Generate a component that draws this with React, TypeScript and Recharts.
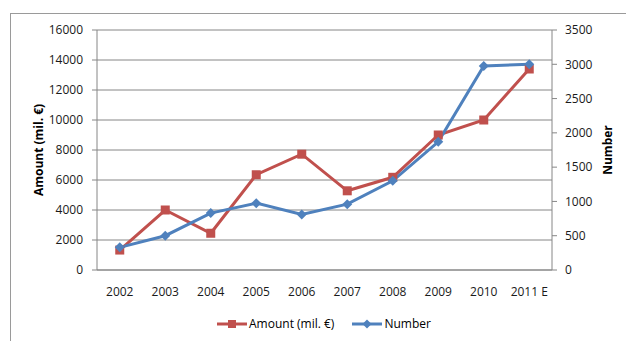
import React from "react";
import {
  LineChart,
  Line,
  XAxis,
  YAxis,
  CartesianGrid,
  Legend,
} from "recharts";

// Yearly figures (2011 is an estimate)
const years = ["2002", "2003", "2004", "2005", "2006", "2007", "2008", "2009", "2010", "2011 E"];
const amountMilEur = [1330, 4000, 2450, 6350, 7720, 5280, 6180, 9000, 10000, 13400];
const numberOfDeals = [330, 500, 830, 975, 810, 960, 1300, 1870, 2975, 3000];

const amountTicks = [0, 2000, 4000, 6000, 8000, 10000, 12000, 14000, 16000];
const numberTicks = [0, 500, 1000, 1500, 2000, 2500, 3000, 3500];

const data = years.map((year, i) => ({
  year,
  amount: amountMilEur[i],
  number: numberOfDeals[i],
}));

const RED = "#C0504D";
const BLUE = "#4F81BD";
const AXIS = "#868686";
const FONT = "'Open Sans', sans-serif";

const SquareDot = (props: any) => {
  const { cx, cy, index } = props;
  if (cx == null || cy == null) return null;
  return <rect key={`sq-${index}`} x={cx - 4.5} y={cy - 4.5} width={9} height={9} fill={RED} />;
};

const DiamondDot = (props: any) => {
  const { cx, cy, index } = props;
  if (cx == null || cy == null) return null;
  const r = 5;
  return (
    <polygon
      key={`dm-${index}`}
      points={`${cx},${cy - r} ${cx + r},${cy} ${cx},${cy + r} ${cx - r},${cy}`}
      fill={BLUE}
    />
  );
};

const AxisTitle = ({ viewBox, value, dx }: any) => {
  const x = viewBox.x + dx;
  const y = viewBox.y + viewBox.height / 2;
  return (
    <text
      x={x}
      y={y}
      transform={`rotate(-90, ${x}, ${y})`}
      textAnchor="middle"
      dominantBaseline="central"
      fontFamily={FONT}
      fontWeight="bold"
      fontSize={12}
      fill="#000"
    >
      {value}
    </text>
  );
};

const LegendContent = () => {
  const items = [
    { label: "Amount (mil. €)", color: RED, marker: "square" },
    { label: "Number", color: BLUE, marker: "diamond" },
  ];
  return (
    <div style={{ display: "flex", alignItems: "center", fontFamily: FONT, fontSize: 12, color: "#000" }}>
      {items.map((it, i) => (
        <div key={it.label} style={{ display: "flex", alignItems: "center", marginRight: i === 0 ? 18 : 0 }}>
          <svg width={30} height={12} style={{ marginRight: 2 }}>
            <line x1={0} y1={6} x2={30} y2={6} stroke={it.color} strokeWidth={3} />
            {it.marker === "square" ? (
              <rect x={11} y={2} width={8} height={8} fill={it.color} />
            ) : (
              <polygon points="15,1.5 19.5,6 15,10.5 10.5,6" fill={it.color} />
            )}
          </svg>
          <span>{it.label}</span>
        </div>
      ))}
    </div>
  );
};

export default function App() {
  return (
    <div style={{ position: "absolute", left: 0, top: 0, width: 626, height: 341, overflow: "hidden", background: "#fff" }}>
      <div
        style={{
          position: "absolute",
          left: 10,
          top: 13,
          width: 700,
          height: 400,
          border: "1px solid #9a9a9a",
        }}
      />
      <div style={{ position: "absolute", left: 0, top: 0 }}>
        <LineChart width={626} height={341} data={data} margin={{ top: 30, right: 0, bottom: 41, left: 0 }}>
          <CartesianGrid vertical={false} stroke={AXIS} strokeWidth={1} horizontalValues={amountTicks} syncWithTicks={false} yAxisId="left" />
          <XAxis
            dataKey="year"
            scale="band"
            height={30}
            tickLine={false}
            axisLine={{ stroke: AXIS }}
            tick={{ fontFamily: FONT, fontSize: 12, fill: "#1a1a1a" }}
            tickMargin={11}
            interval={0}
          />
          <YAxis
            yAxisId="left"
            width={97}
            domain={[0, 16000]}
            ticks={amountTicks}
            tickSize={5}
            tickMargin={9}
            tickLine={{ stroke: AXIS }}
            axisLine={{ stroke: AXIS }}
            tick={{ fontFamily: FONT, fontSize: 12, fill: "#1a1a1a" }}
            label={<AxisTitle value="Amount (mil. €)" dx={38} />}
          />
          <YAxis
            yAxisId="right"
            orientation="right"
            width={74}
            domain={[0, 3500]}
            ticks={numberTicks}
            tickSize={5}
            tickMargin={8}
            tickLine={{ stroke: AXIS }}
            axisLine={{ stroke: AXIS }}
            tick={{ fontFamily: FONT, fontSize: 12, fill: "#1a1a1a" }}
            label={<AxisTitle value="Number" dx={55} />}
          />
          <Legend
            verticalAlign="middle"
            content={<LegendContent />}
            wrapperStyle={{ top: 315, left: 217, width: "auto" }}
          />
          <Line
            yAxisId="left"
            dataKey="amount"
            stroke={RED}
            strokeWidth={3}
            dot={SquareDot}
            activeDot={false}
            isAnimationActive={false}
          />
          <Line
            yAxisId="right"
            dataKey="number"
            stroke={BLUE}
            strokeWidth={3}
            dot={DiamondDot}
            activeDot={false}
            isAnimationActive={false}
          />
        </LineChart>
      </div>
    </div>
  );
}
